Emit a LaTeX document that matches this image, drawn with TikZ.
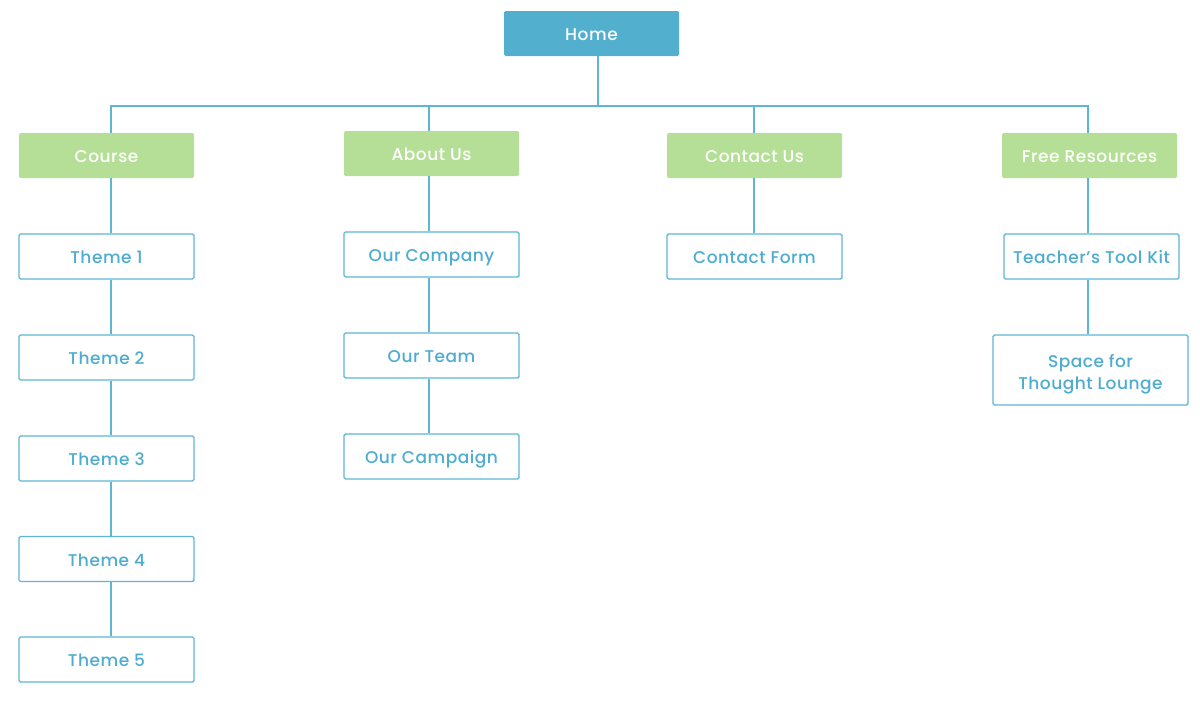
\documentclass[tikz,border=0pt]{standalone}
\usepackage{fontspec}
\setmainfont{Poppins}[UprightFont=* Medium, LetterSpace=3]

\begin{document}
\begin{tikzpicture}[x=1pt, y=-1pt, font=\fontsize{17}{22}\selectfont,
   topbox/.style={fill=homeblue, text=white, rounded corners=1.5pt,
    minimum width=175pt, minimum height=45pt, inner sep=0pt,
    text height=14pt, text depth=0pt},
   sectionbox/.style={fill=leafgreen, text=white, rounded corners=1.5pt,
    minimum width=175pt, minimum height=45pt, inner sep=0pt,
    text height=14pt, text depth=0pt},
   pagebox/.style={draw=lineblue, line width=1.4pt, fill=white, text=textblue,
    rounded corners=1.5pt, minimum width=175pt, minimum height=45pt,
    inner sep=0pt, text height=14pt, text depth=0pt},
   link/.style={draw=lineblue, line width=1.4pt}]
   \definecolor{homeblue}{HTML}{52AFCD}
   \definecolor{leafgreen}{HTML}{B5DF96}
   \definecolor{lineblue}{HTML}{5DB6D6}
   \definecolor{textblue}{HTML}{4DACD0}
   \useasboundingbox (0,0) rectangle (1200,702);

   % top level
   \node [topbox] (home) at (591.5,33.5) {Home};
   \coordinate (bus) at (598,106);

   % sections
   \node [sectionbox] (course)    at (106.5,155.5) {Course};
   \node [sectionbox] (about)     at (431.5,153.5) {About Us};
   \node [sectionbox] (contact)   at (754.5,155.5) {Contact Us};
   \node [sectionbox] (resources) at (1089.5,155.5) {Free Resources};

   % pages
   \node [pagebox] (theme1) at (106.5,256.5) {Theme 1};
   \node [pagebox] (theme2) at (106.5,357.5) {Theme 2};
   \node [pagebox] (theme3) at (106.5,458.5) {Theme 3};
   \node [pagebox] (theme4) at (106.5,559) {Theme 4};
   \node [pagebox] (theme5) at (106.5,659.5) {Theme 5};
   \node [pagebox] (company)  at (431.5,254.5) {Our Company};
   \node [pagebox] (team)     at (431.5,355.5) {Our Team};
   \node [pagebox] (campaign) at (431.5,456.5) {Our Campaign};
   \node [pagebox] (form) at (754.5,256.5) {Contact Form};
   \node [pagebox] (toolkit) at (1091.5,256.5) {Teacher’s Tool Kit};
   \node [pagebox, minimum width=195pt, minimum height=70pt,
    text height=, text depth=, align=center] (lounge)
    at (1090.5,370) {\rule{0pt}{22pt}Space for\\Thought Lounge};

   % connectors
   \draw [link] (home.south -| bus) -- (bus);
   \draw [link] ([xshift=4.5pt]course.north) |- (bus) -| ([xshift=-1.5pt]resources.north);
   \draw [link] ([xshift=-2.5pt]about.north) -- ([xshift=-2.5pt]about.north |- bus);
   \draw [link] ([xshift=-0.5pt]contact.north) -- ([xshift=-0.5pt]contact.north |- bus);
   \foreach \upper/\lower in {course/theme1, theme1/theme2, theme2/theme3,
     theme3/theme4, theme4/theme5}
     \draw [link] ([xshift=4.5pt]\upper.south) -- ([xshift=4.5pt]\lower.north);
   \foreach \upper/\lower in {about/company, company/team, team/campaign}
     \draw [link] ([xshift=-2.5pt]\upper.south) -- ([xshift=-2.5pt]\lower.north);
   \draw [link] ([xshift=-0.5pt]contact.south) -- ([xshift=-0.5pt]form.north);
   \draw [link] ([xshift=-1.5pt]resources.south) -- ([xshift=-1.5pt]resources.south |- toolkit.north);
   \draw [link] ([xshift=-3.5pt]toolkit.south) -- ([xshift=-3.5pt]toolkit.south |- lounge.north);
\end{tikzpicture}
\end{document}
